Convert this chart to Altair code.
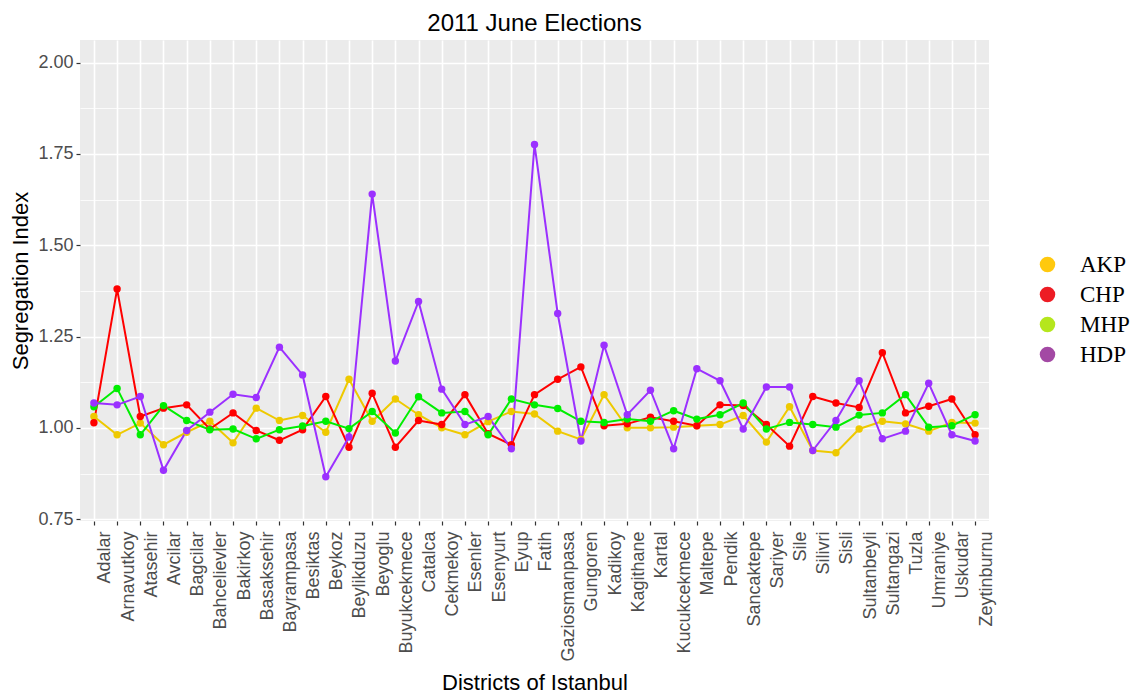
import altair as alt
import pandas as pd

districts = ["Adalar", "Arnavutkoy", "Atasehir", "Avcilar", "Bagcilar", "Bahcelievler",
             "Bakirkoy", "Basaksehir", "Bayrampasa", "Besiktas", "Beykoz", "Beylikduzu",
             "Beyoglu", "Buyukcekmece", "Catalca", "Cekmekoy", "Esenler", "Esenyurt",
             "Eyup", "Fatih", "Gaziosmanpasa", "Gungoren", "Kadikoy", "Kagithane",
             "Kartal", "Kucukcekmece", "Maltepe", "Pendik", "Sancaktepe", "Sariyer",
             "Sile", "Silivri", "Sisli", "Sultanbeyli", "Sultangazi", "Tuzla",
             "Umraniye", "Uskudar", "Zeytinburnu"]

akp = [1.031, 0.981, 1.013, 0.954, 0.988, 1.018, 0.959, 1.054, 1.020, 1.034,
       0.988, 1.133, 1.018, 1.079, 1.036, 1.000, 0.981, 1.017, 1.045, 1.038,
       0.991, 0.968, 1.091, 1.000, 1.000, 1.002, 1.006, 1.009, 1.034, 0.961,
       1.058, 0.938, 0.932, 0.997, 1.018, 1.011, 0.991, 1.015, 1.013]
chp = [1.014, 1.380, 1.031, 1.054, 1.063, 0.997, 1.041, 0.993, 0.966, 0.995,
       1.086, 0.947, 1.095, 0.947, 1.020, 1.009, 1.091, 0.984, 0.954, 1.091,
       1.133, 1.167, 1.006, 1.011, 1.029, 1.018, 1.006, 1.063, 1.061, 1.009,
       0.950, 1.086, 1.068, 1.056, 1.206, 1.041, 1.059, 1.079, 0.981]
mhp = [1.058, 1.108, 0.981, 1.061, 1.020, 0.995, 0.997, 0.970, 0.995, 1.005,
       1.018, 0.998, 1.045, 0.986, 1.085, 1.041, 1.045, 0.981, 1.079, 1.063,
       1.053, 1.018, 1.015, 1.024, 1.018, 1.047, 1.024, 1.036, 1.068, 0.997,
       1.015, 1.009, 1.002, 1.035, 1.041, 1.091, 1.002, 1.006, 1.036]
hdp = [1.068, 1.063, 1.086, 0.884, 0.993, 1.043, 1.092, 1.083, 1.221, 1.145,
       0.866, 0.975, 1.640, 1.183, 1.346, 1.106, 1.009, 1.031, 0.943, 1.776,
       1.313, 0.964, 1.226, 1.036, 1.103, 0.943, 1.162, 1.129, 0.997, 1.112,
       1.112, 0.938, 1.020, 1.129, 0.970, 0.991, 1.122, 0.981, 0.964]

parties = ["AKP", "CHP", "MHP", "HDP"]
line_colors = ["#EEC900", "#FF0000", "#00EE00", "#9B30FF"]
legend_colors = ["#FFC90E", "#ED1C24", "#B5E61D", "#A349A4"]
y_ticks = [0.75, 1.00, 1.25, 1.50, 1.75, 2.00]
y_minor = [0.875, 1.125, 1.375, 1.625, 1.875]

rows = []
for p, vals in zip(parties, [akp, chp, mhp, hdp]):
    for i, (d, v) in enumerate(zip(districts, vals)):
        rows.append({"district": d, "party": p, "party_key": p, "value": v, "idx": i})
df = pd.DataFrame(rows)

FONT = "Liberation Sans"

x_axis = alt.Axis(
    title="Districts of Istanbul", titleFont=FONT, titleFontSize=22,
    titleFontWeight="normal", titleColor="#000000",
    titleX=454.5, titleY=161, titleAlign="center", titleBaseline="middle",
    labelAngle=270, labelAlign="right", labelBaseline="middle",
    labelOffset=11, labelPadding=6, labelFont=FONT, labelFontSize=18,
    labelColor="#4D4D4D", tickSize=4, tickColor="#333333", tickWidth=1.2,
    domain=False, grid=True, gridColor="#FFFFFF", gridWidth=1.6,
    labelOverlap=False,
)
x_enc = alt.X("district:N", sort=districts,
              scale=alt.Scale(type="point", padding=0.6, domain=districts),
              axis=x_axis)

y_scale = alt.Scale(domain=[0.745, 2.062], nice=False, zero=False)

major_axis = alt.Axis(
    orient="left", values=y_ticks, format=".2f",
    title="Segregation Index", titleFont=FONT, titleFontSize=22,
    titleFontWeight="normal", titleColor="#000000",
    titleX=-60, titleY=240.5, titleAngle=270, titleAlign="center",
    titleBaseline="middle",
    labelFont=FONT, labelFontSize=18, labelColor="#4D4D4D", labelPadding=3,
    tickSize=4, tickColor="#333333", tickWidth=1.2, domain=False,
    grid=True, gridColor="#FFFFFF", gridWidth=1.6,
)
minor_axis = alt.Axis(
    orient="left", values=y_minor, labels=False, ticks=False, domain=False,
    title=None, grid=True, gridColor="#FFFFFF", gridWidth=0.8,
)

line_scale = alt.Scale(domain=parties, range=line_colors)

base = alt.Chart(df)

minor = base.mark_circle(opacity=0).encode(
    x=x_enc,
    y=alt.Y("value:Q", scale=y_scale, axis=minor_axis),
)

lines = base.mark_line(strokeWidth=2).encode(
    x=x_enc,
    y=alt.Y("value:Q", scale=y_scale, axis=major_axis),
    color=alt.Color("party:N", scale=line_scale, legend=None),
    order=alt.Order("idx:Q"),
)

# points drawn underneath the visible ones, carrying the legend in its own colours
legend_layer = base.mark_circle(size=30, opacity=1).encode(
    x=x_enc,
    y=alt.Y("value:Q", scale=y_scale, axis=None),
    fill=alt.Fill("party_key:N", sort=parties,
                  scale=alt.Scale(range=legend_colors),
                  legend=alt.Legend(
                      title=None, orient="none", legendX=956, legendY=213,
                      direction="vertical", padding=0,
                      symbolType="circle", symbolSize=240, symbolStrokeWidth=0,
                      symbolOpacity=1,
                      labelFont="Liberation Serif", labelFontSize=23,
                      labelColor="#000000", labelOffset=21, rowPadding=6,
                  )),
)

points = base.mark_circle(size=55, opacity=1).encode(
    x=x_enc,
    y=alt.Y("value:Q", scale=y_scale, axis=None),
    color=alt.Color("party:N", scale=line_scale, legend=None),
)

chart = alt.layer(minor, lines, legend_layer, points).resolve_axis(
    y="independent"
).properties(
    width=909,
    height=481,
    autosize=alt.AutoSizeParams(type="none"),
    padding={"left": 72, "top": 32, "right": 150, "bottom": 176},
    title=alt.Title("2011 June Elections", font=FONT, fontSize=24,
                    fontWeight="normal", color="#000000", anchor="middle",
                    frame="group", offset=4),
).configure_view(fill="#EBEBEB", stroke=None)

chart.save("out.html", embed_options={"renderer": "svg", "actions": False})
